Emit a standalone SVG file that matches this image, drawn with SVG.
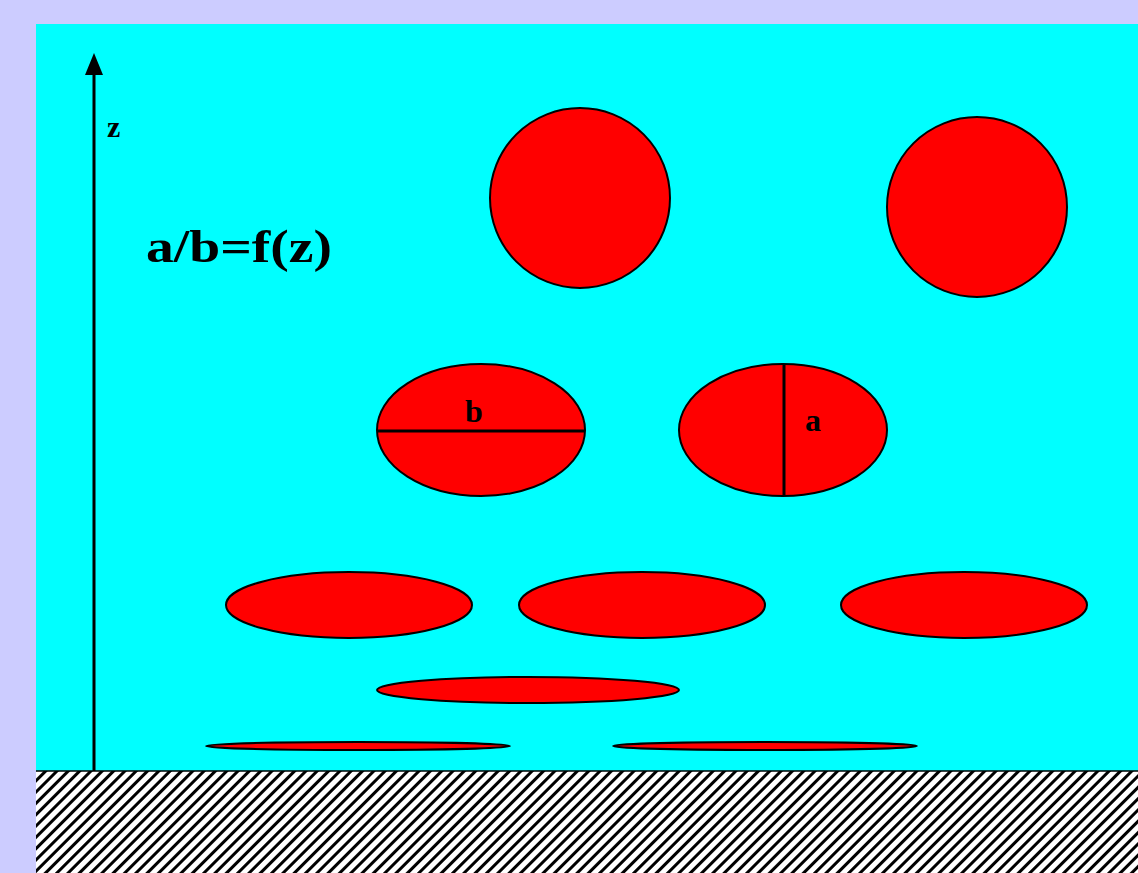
<svg xmlns="http://www.w3.org/2000/svg" width="1138" height="873" viewBox="0 0 1138 873">
<style>
.blob{fill:#ff0000;stroke:#000;stroke-width:2}
.lbl{font-family:"Liberation Serif",serif;font-weight:bold;fill:#000}
</style>
<defs>
<pattern id="hatch" patternUnits="userSpaceOnUse" width="8" height="8" patternTransform="rotate(45)">
<rect width="8" height="8" fill="#fff"/>
<rect x="0" y="0" width="3" height="8" fill="#000"/>
</pattern>
</defs>
<rect width="1138" height="873" fill="#ccccff"/>
<rect x="36" y="24" width="1102" height="849" fill="#00ffff"/>
<rect x="36" y="771" width="1102" height="102" fill="url(#hatch)"/>
<line x1="36" y1="771" x2="1138" y2="771" stroke="#000" stroke-width="1.5"/>
<g id="axis">
<line x1="94" y1="771" x2="94" y2="72" stroke="#000" stroke-width="3"/>
<polygon points="94,53 85,75 103,75" fill="#000"/>
<text class="lbl" x="107" y="137" font-size="30">z</text>
</g>
<text class="lbl" x="146" y="262" font-size="46" textLength="186" lengthAdjust="spacingAndGlyphs">a/b=f(z)</text>
<g id="c1"><circle class="blob" cx="580" cy="198" r="90"/></g>
<g id="c2"><circle class="blob" cx="977" cy="207" r="90"/></g>
<g id="e1"><ellipse class="blob" cx="481" cy="430" rx="104" ry="66"/>
<line x1="377" y1="431" x2="585" y2="431" stroke="#000" stroke-width="3"/>
<text class="lbl" x="474" y="422" font-size="32" text-anchor="middle">b</text></g>
<g id="e2"><ellipse class="blob" cx="783" cy="430" rx="104" ry="66"/>
<line x1="784" y1="364" x2="784" y2="496" stroke="#000" stroke-width="3"/>
<text class="lbl" x="813" y="431" font-size="32" text-anchor="middle">a</text></g>
<g id="e3"><ellipse class="blob" cx="349" cy="605" rx="123" ry="33"/></g>
<g id="e4"><ellipse class="blob" cx="642" cy="605" rx="123" ry="33"/></g>
<g id="e5"><ellipse class="blob" cx="964" cy="605" rx="123" ry="33"/></g>
<g id="e6"><ellipse class="blob" cx="528" cy="690" rx="151" ry="13"/></g>
<g id="e7"><ellipse class="blob" cx="358" cy="746" rx="152" ry="4"/></g>
<g id="e8"><ellipse class="blob" cx="765" cy="746" rx="152" ry="4"/></g>
</svg>
